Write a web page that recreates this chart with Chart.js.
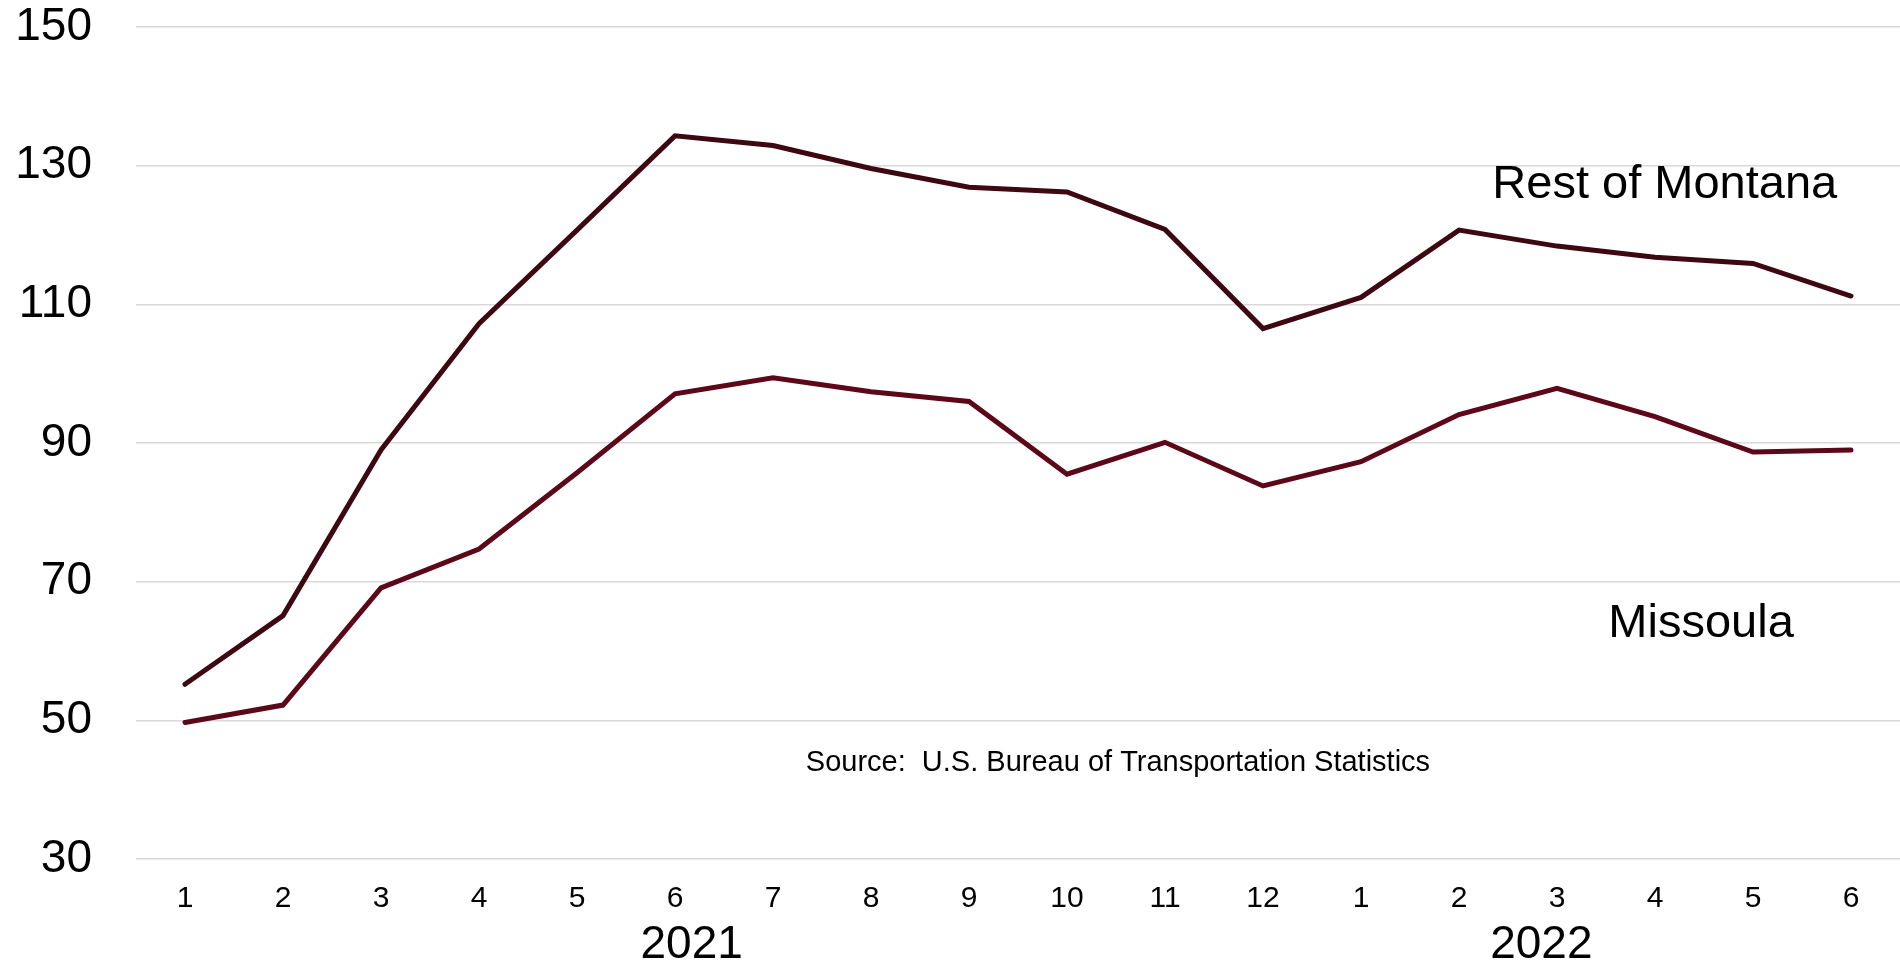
<!DOCTYPE html>
<html>
<head>
<meta charset="utf-8">
<script src="https://cdn.jsdelivr.net/npm/chart.js@4"></script>
<style>
  body { margin: 0; background: #fff; }
  #wrap { width: 1900px; height: 969px; position: relative; }
</style>
</head>
<body>
<div id="wrap"><canvas id="chart"></canvas></div>
<script>
// months, 2021-01 .. 2022-06
const months = ['1','2','3','4','5','6','7','8','9','10','11','12','1','2','3','4','5','6']
const restOfMontana = [55.2, 65.1, 89.0, 107.2, 120.7, 134.3, 132.9, 129.6, 126.9, 126.2, 120.8, 106.5, 111.0, 120.7, 118.4, 116.8, 115.9, 111.2]
const missoula = [49.7, 52.2, 69.1, 74.7, 85.7, 97.1, 99.4, 97.4, 96.0, 85.5, 90.1, 83.8, 87.3, 94.1, 97.9, 93.8, 88.7, 89.0]
const yTicks = [30, 50, 70, 90, 110, 130, 150]
const years = ['2021', '2022']

const FONT = '"Liberation Sans", Arial, sans-serif'

// text drawn on top of the chart (years under the axis, series names, source)
const textPlugin = {
  id: 'texts',
  afterDraw(chart) {
    const ctx = chart.ctx
    const x = chart.scales.x
    const y = chart.scales.y
    ctx.save()
    ctx.fillStyle = '#000'
    ctx.textAlign = 'center'
    ctx.textBaseline = 'middle'

    ctx.font = '46px ' + FONT
    ctx.fillText(years[0], x.getPixelForValue(5.17), 945)
    ctx.fillText(years[1], x.getPixelForValue(13.84), 945)

    ctx.font = '47px ' + FONT
    ctx.fillText('Rest of Montana', x.getPixelForValue(15.1), y.getPixelForValue(127.2))
    ctx.fillText('Missoula', x.getPixelForValue(15.47), y.getPixelForValue(63.9))

    ctx.font = '29px ' + FONT
    ctx.fillText('Source:  U.S. Bureau of Transportation Statistics', x.getPixelForValue(9.52), y.getPixelForValue(43.8))
    ctx.restore()
  }
}

new Chart(document.getElementById('chart'), {
  type: 'line',
  data: {
    labels: months,
    datasets: [
      {
        label: 'Rest of Montana',
        data: restOfMontana,
        borderColor: '#3e0812',
        borderWidth: 5,
        pointRadius: 0,
        tension: 0,
        borderCapStyle: 'round'
      },
      {
        label: 'Missoula',
        data: missoula,
        borderColor: '#5c0818',
        borderWidth: 5,
        pointRadius: 0,
        tension: 0,
        borderCapStyle: 'round'
      }
    ]
  },
  options: {
    responsive: true,
    maintainAspectRatio: false,
    animation: false,
    layout: { padding: { top: 27, left: 0, right: 0, bottom: 0 } },
    plugins: {
      legend: { display: false },
      tooltip: { enabled: false }
    },
    scales: {
      x: {
        offset: true,
        grid: { display: false },
        border: { display: false },
        ticks: {
          color: '#000',
          font: { size: 30, family: FONT },
          padding: 14,
          maxRotation: 0,
          autoSkip: false
        },
        afterFit: s => { s.height = 110; s.paddingLeft = 0; s.paddingRight = 0 }
      },
      y: {
        min: 30,
        max: 150,
        afterBuildTicks: s => { s.ticks = yTicks.map(v => ({ value: v })) },
        grid: { color: '#d9d9d9', lineWidth: 1.5, drawTicks: false },
        border: { display: false },
        ticks: {
          color: '#000',
          font: { size: 46, family: FONT },
          padding: 44
        },
        // fixed axis width, no extra room for the top label
        afterFit: s => { s.width = 136; s.paddingTop = 0; s.paddingBottom = 0 }
      }
    }
  },
  plugins: [textPlugin]
})
</script>
</body>
</html>
